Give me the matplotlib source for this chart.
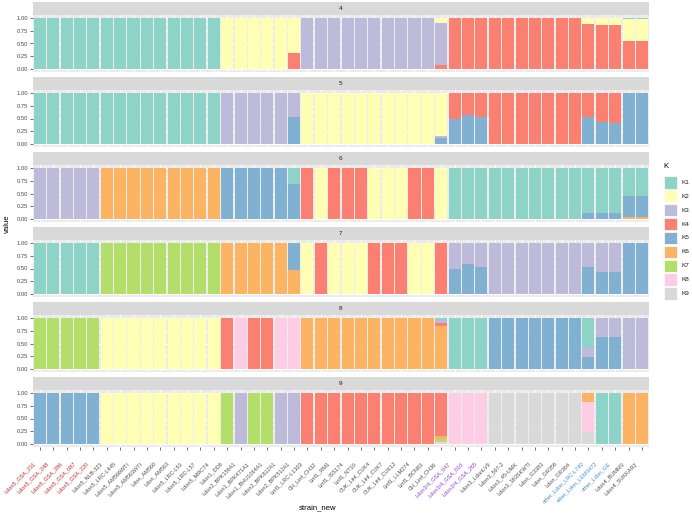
import matplotlib
matplotlib.use("Agg")
import matplotlib.pyplot as plt
from matplotlib.patches import Rectangle
from matplotlib.transforms import ScaledTranslation
import numpy as np

plt.rcParams['font.family'] = ['Liberation Sans', 'DejaVu Sans']

strains = ["Ldon5_GSA_231", "Ldon5_GSA_248", "Ldon5_GSA_286", "Ldon5_GSA_087", "Ldon5_GSA_220",
           "Ldon5_NLB-323", "Ldon5_LRC-L445", "Ldon5_AM566WTI", "Ldon5_AM563WTI", "Ldon_AM560",
           "Ldon_AM563", "Ldon5_LRC-L53", "Ldon5_LRC-L57", "Ldon5_MRC74", "Ldon1_DD8",
           "Ldon2_BPK156A1", "Ldon1_BPK471A1", "Ldon1_BHU1064A1", "Ldon2_BPK612A1", "Ldon2_BPK512A1",
           "Linf1_LRC-L1303", "CH_Linf_CH32", "Linf1_RM1", "Linf1_ISS174", "Linf1_NT10",
           "CUK_Linf_CUK4", "CUK_Linf_CUK7", "CUK_Linf_CUK12", "Linf1_LLM274", "Linf1_BCN83",
           "CH_Linf_CH36", "Ldon3/4_GSA_047", "Ldon3/4_GSA_010", "Ldon3/4_GSA_265", "Ldon3_LdonLV9",
           "Ldon3_597-2", "Ldon3_45-UMK", "Ldon3_363SKWTI", "Ldon_G3383", "Ldon_GR356",
           "Ldon_GR364", "other_Ldon_LRC-L740", "other_Ldon_LEM3472", "other_Ldon_GE", "Ldon4_BUMM3",
           "Ldon4_SUKKAR2"]

# label colour group per strain: 0 normal, 1 red, 2 purple, 3 blue
label_group = [1, 1, 1, 1, 1, 0, 0, 0, 0, 0, 0, 0, 0, 0, 0, 0, 0, 0, 0, 0,
               0, 0, 0, 0, 0, 0, 0, 0, 0, 0, 0, 2, 2, 2, 0, 0, 0, 0, 0, 0,
               0, 3, 3, 3, 0, 0]
label_colors = ["#4D4D4D", "#C0272D", "#8B3FC7", "#4A8CCB"]

clusters = ["K1", "K2", "K3", "K4", "K5", "K6", "K7", "K8", "K9"]
cluster_colors = ["#8DD3C7", "#FFFFB3", "#BEBADA", "#FB8072", "#80B1D3",
                  "#FDB462", "#B3DE69", "#FCCDE5", "#D9D9D9"]

# membership per strain: int = single cluster, dict = mixed proportions
q4 = [1, 1, 1, 1, 1, 1, 1, 1, 1, 1, 1, 1, 1, 1,
      2, 2, 2, 2, 2, {2: 0.68, 4: 0.32},
      3, 3, 3, 3, 3, 3, 3, 3, 3, 3, {2: 0.10, 3: 0.82, 4: 0.08},
      4, 4, 4, 4, 4, 4, 4, 4, 4, 4,
      {2: 0.12, 4: 0.88}, {2: 0.135, 4: 0.865}, {2: 0.135, 4: 0.865},
      {1: 0.03, 2: 0.43, 4: 0.54}, {1: 0.03, 2: 0.42, 4: 0.55}]

q5 = [1, 1, 1, 1, 1, 1, 1, 1, 1, 1, 1, 1, 1, 1,
      3, 3, 3, 3, 3, {3: 0.48, 5: 0.52},
      2, 2, 2, 2, 2, 2, 2, 2, 2, 2, {2: 0.83, 3: 0.05, 5: 0.12},
      {4: 0.51, 5: 0.49}, {4: 0.43, 5: 0.57}, {4: 0.47, 5: 0.53},
      4, 4, 4, 4, 4, 4, 4,
      {4: 0.48, 5: 0.52}, {4: 0.56, 5: 0.44}, {4: 0.58, 5: 0.42},
      5, 5]

q6 = [3, 3, 3, 3, 3, 6, 6, 6, 6, 6, 6, 6, 6, 6,
      5, 5, 5, 5, 5, {1: 0.32, 5: 0.68},
      4, 2, 4, 4, 4, 2, 2, 2, 4, 4, 2,
      1, 1, 1, 1, 1, 1, 1, 1, 1, 1,
      {1: 0.88, 5: 0.12}, {1: 0.87, 5: 0.13}, {1: 0.87, 5: 0.13},
      {1: 0.54, 5: 0.42, 6: 0.04}, {1: 0.54, 5: 0.42, 6: 0.04}]

q7 = [1, 1, 1, 1, 1, 7, 7, 7, 7, 7, 7, 7, 7, 7,
      6, 6, 6, 6, 6, {5: 0.53, 6: 0.47},
      2, 4, 2, 2, 2, 4, 4, 4, 2, 2, 4,
      {3: 0.50, 5: 0.50}, {3: 0.42, 5: 0.58}, {3: 0.47, 5: 0.53},
      3, 3, 3, 3, 3, 3, 3,
      {3: 0.48, 5: 0.52}, {3: 0.56, 5: 0.44}, {3: 0.57, 5: 0.43},
      5, 5]

q8 = [7, 7, 7, 7, 7, 2, 2, 2, 2, 2, 2, 2, 2, 2,
      4, 8, 4, 4, 8, 8,
      6, 6, 6, 6, 6, 6, 6, 6, 6, 6, {1: 0.04, 3: 0.07, 4: 0.05, 6: 0.84},
      1, 1, 1,
      5, 5, 5, 5, 5, 5, 5,
      {1: 0.59, 3: 0.18, 5: 0.23}, {3: 0.38, 5: 0.62}, {3: 0.37, 5: 0.63},
      3, 3]

q9 = [5, 5, 5, 5, 5, 2, 2, 2, 2, 2, 2, 2, 2, 2,
      7, 3, 7, 7, 3, 3,
      4, 4, 4, 4, 4, 4, 4, 4, 4, 4, {4: 0.84, 6: 0.06, 7: 0.05, 8: 0.05},
      8, 8, 8,
      9, 9, 9, 9, 9, 9, 9,
      {6: 0.18, 8: 0.59, 9: 0.23}, 1, 1,
      6, 6]

panels = [("4", q4), ("5", q5), ("6", q6), ("7", q7), ("8", q8), ("9", q9)]


def to_matrix(q):
    m = np.zeros((len(q), 9))
    for i, v in enumerate(q):
        if isinstance(v, dict):
            for k, p in v.items():
                m[i, k - 1] = p
        else:
            m[i, v - 1] = 1.0
    return m


W, H = 692, 519
fig = plt.figure(figsize=(W / 100, H / 100), dpi=100)

left_px, right_px = 32.5, 649.3
x = np.arange(len(strains))

for p, (name, q) in enumerate(panels):
    m = to_matrix(q)
    strip_top = 1.7 + 75 * p
    panel_top = strip_top + 13.3
    panel_bot = panel_top + 57
    ax = fig.add_axes([left_px / W, 1 - panel_bot / H, (right_px - left_px) / W, 57 / H])
    sx = fig.add_axes([left_px / W, 1 - panel_top / H, (right_px - left_px) / W, 13.3 / H])
    sx.set_facecolor("#D9D9D9")
    sx.set_xticks([]); sx.set_yticks([])
    for s in sx.spines.values():
        s.set_visible(False)
    sx.text(0.5, 0.5, name, ha="center", va="center", fontsize=4.6, color="#1A1A1A",
            transform=sx.transAxes)

    ax.set_facecolor("#EBEBEB")
    ax.set_axisbelow(True)
    # stack K9 at the bottom up to K1 on top
    bottom = np.zeros(len(strains))
    for k in range(8, -1, -1):
        h = m[:, k]
        ax.bar(x, h, bottom=bottom, width=0.9, color=cluster_colors[k], linewidth=0)
        bottom += h
    ax.set_xlim(-0.55, len(strains) - 0.45)
    ax.set_ylim(-0.05, 1.05)
    ax.set_yticks([0, 0.25, 0.5, 0.75, 1.0])
    ax.set_yticklabels(["0.00", "0.25", "0.50", "0.75", "1.00"])
    ax.set_yticks([0.125, 0.375, 0.625, 0.875], minor=True)
    ax.set_xticks(x)
    ax.grid(True, which="major", color="white", linewidth=0.7)
    ax.grid(True, which="minor", axis="y", color="white", linewidth=0.35)
    for s in ax.spines.values():
        s.set_visible(False)
    ax.tick_params(axis="y", which="major", length=2, width=0.5, color="#333333",
                   labelsize=4.2, labelcolor="#4D4D4D", pad=1)
    ax.tick_params(axis="y", which="minor", length=0)
    if p < 5:
        ax.tick_params(axis="x", length=0, labelbottom=False)
    else:
        ax.tick_params(axis="x", length=2, width=0.5, color="#333333", pad=1.5)
        ax.set_xticklabels(strains, rotation=45, ha="right", va="top",
                           rotation_mode="anchor", fontsize=4.0)
        shift = ScaledTranslation(-7 / 100, -9 / 100, fig.dpi_scale_trans)
        for lab, g in zip(ax.get_xticklabels(), label_group):
            lab.set_color(label_colors[g])
            lab.set_transform(lab.get_transform() + shift)

fig.text(318 / W, 1 - 508 / H, "strain_new", ha="center", va="center", fontsize=5.6, color="black")
fig.text(7 / W, 1 - 224 / H, "value", ha="center", va="center", rotation=90, fontsize=5.6,
         color="black")

# legend drawn in its own pixel-space axes
lg = fig.add_axes([655 / W, 1 - 305 / H, 37 / W, 150 / H])
lg.set_xlim(655, 692)
lg.set_ylim(305, 155)
lg.axis("off")
lg.text(663, 166, "K", ha="left", va="center", fontsize=5.6, color="black")
for i, (lab, c) in enumerate(zip(clusters, cluster_colors)):
    cy = 182.3 + 13.9 * i
    lg.add_patch(Rectangle((664, cy - 6.2), 12.7, 12.4, facecolor=c, edgecolor="white",
                           linewidth=0.5))
    lg.text(681.5, cy, lab, ha="left", va="center", fontsize=4.6, color="#1A1A1A")

fig.savefig("out.png", dpi=100)
